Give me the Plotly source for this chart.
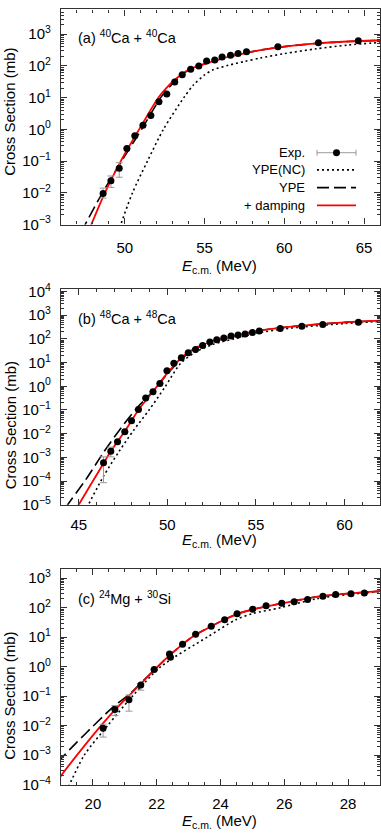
import plotly.graph_objects as go

W, H = 381, 837

# ---------------- Panel (a): 40Ca + 40Ca ----------------
a_exp_E = [48.64, 49.13, 49.65, 50.13, 50.63, 51.14, 51.63, 52.14, 52.63, 53.13, 53.60,
           54.13, 54.64, 55.13, 55.64, 56.10, 56.63, 57.10, 57.63, 59.60, 62.14, 64.64]
a_exp_sig = [0.0095, 0.024, 0.060, 0.25, 0.63, 1.35, 2.75, 7.5, 13, 31, 53,
             79, 100, 143, 155, 190, 218, 245, 280, 400, 540, 620]
a_exp_hi = [0.0141, 0.034, 0.089] + [None] * 19
a_exp_lo = [0.0068, 0.0148, 0.031] + [None] * 19

a_nc_E = [49.5, 49.75, 50.48, 51.42, 52.42, 53.7, 54.3, 55.0, 55.5, 56.5, 57.5, 58.5, 60, 62, 64, 66]
a_nc_sig = [4e-4, 1e-3, 1e-2, 0.1, 1.0, 10, 25, 52, 74, 105, 138, 178, 245, 347, 457, 550]

a_ype_E = [47.3, 47.52, 48.6, 49.8, 51.05, 52.25, 52.7, 53.15, 53.6, 54.0, 54.6, 55.5, 56.5, 57.5, 58.5, 60, 62, 64, 66]
a_ype_sig = [5.6e-4, 1e-3, 1e-2, 0.1, 1.0, 10, 19, 33, 54, 74, 100, 138, 195, 251, 316, 407, 513, 589, 646]

a_damp_E = [47.7, 47.9, 48.75, 49.75, 50.9, 52.1, 52.6, 53.1, 53.6, 54.0, 54.6, 55.5, 56.5, 57.5, 58.5, 60, 62, 64, 66]
a_damp_sig = [5.6e-4, 1e-3, 1e-2, 0.1, 1.0, 10, 20, 35.5, 56, 76, 100, 138, 195, 251, 316, 407, 513, 589, 646]

# ---------------- Panel (b): 48Ca + 48Ca ----------------
b_exp_E = [46.40, 46.81, 47.19, 47.60, 47.98, 48.37, 48.78, 49.19, 49.58, 49.98, 50.37, 50.79,
           51.18, 51.59, 51.99, 52.40, 52.79, 53.19, 53.60, 53.99, 54.39, 54.80, 55.19,
           56.37, 57.59, 58.77, 60.78]
b_exp_sig = [5.9e-4, 1.8e-3, 4.6e-3, 0.012, 0.035, 0.105, 0.32, 0.59, 1.3, 4.5, 9.4, 16,
             26, 36, 53, 75, 93, 110, 132, 145, 163, 185, 215, 275, 345, 410, 500]
b_exp_hi = [1.05e-3, 2.7e-3] + [None] * 25
b_exp_lo = [8.5e-5, 1.05e-3] + [None] * 25

b_nc_E = [45.45, 45.54, 46.4, 47.28, 48.1, 48.97, 49.85, 50.75, 51.6, 52.6, 53.75, 55, 57, 60, 62]
b_nc_sig = [7.6e-6, 1e-5, 1.6e-4, 1.8e-3, 0.014, 0.1, 0.89, 9.3, 28, 60, 100, 174, 288, 447, 550]

b_ype_E = [44.3, 44.38, 45.4, 46.44, 47.4, 48.3, 49.2, 50.0, 50.94, 51.87, 52.5, 53.5, 55, 57, 60, 62]
b_ype_sig = [7.6e-6, 1e-5, 1.15e-4, 1.8e-3, 0.018, 0.126, 0.63, 3.3, 17.8, 50, 76, 117, 214, 331, 501, 589]

b_damp_E = [44.9, 45.0, 45.8, 46.4, 46.81, 47.6, 48.37, 49.19, 50.0, 50.94, 51.87, 52.5, 53.5, 55, 57, 60, 62]
b_damp_sig = [7.4e-6, 1e-5, 1e-4, 5.6e-4, 1.8e-3, 0.0126, 0.1, 0.6, 3.6, 20, 52, 76, 117, 214, 331, 501, 589]

# ---------------- Panel (c): 24Mg + 30Si ----------------
c_exp_E = [20.32, 20.69, 21.13, 21.50, 21.92, 22.40, 22.43, 22.81, 23.22, 23.71, 24.13,
           24.52, 25.01, 25.43, 25.92, 26.31, 26.73, 27.21, 27.61, 28.09, 28.51]
c_exp_sig = [8.1e-3, 0.035, 0.076, 0.24, 0.8, 2.7, 2.1, 5.8, 12.5, 23.5, 39,
             62, 89, 117, 142, 158, 190, 245, 280, 295, 316]
c_exp_hi = [0.0112, 0.048, 0.11, 0.27] + [None] * 17
c_exp_lo = [0.0041, 0.022, 0.031, 0.16] + [None] * 17

c_nc_E = [19.15, 19.26, 19.73, 20.46, 21.24, 22.13, 23.58, 24.5, 25.0, 25.88, 27, 28, 29]
c_nc_sig = [6.3e-5, 1e-4, 1e-3, 1e-2, 0.1, 1.0, 10, 40, 63, 100, 200, 282, 355]

c_ype_E = [18.9, 19.0, 19.5, 20.0, 20.4, 20.7, 21.13, 21.5, 21.92, 22.42, 23.1, 23.71, 24.13, 24.6, 25.25, 26, 27, 28, 29]
c_ype_sig = [5.6e-4, 7.6e-4, 2.75e-3, 9.5e-3, 0.025, 0.05, 0.112, 0.275, 0.76, 2.5, 10, 23.4, 40, 66, 100, 145, 234, 302, 363]

c_damp_E = [18.9, 19.0, 19.5, 20.0, 20.69, 21.13, 21.5, 21.92, 22.42, 23.1, 23.71, 24.13, 24.6, 25.25, 26, 27, 28, 29]
c_damp_sig = [1.4e-4, 2.0e-4, 1e-3, 4.7e-3, 0.034, 0.105, 0.26, 0.76, 2.5, 10, 23.4, 40, 66, 100, 145, 234, 302, 363]

panel_labels = ["(a) <sup>40</sup>Ca + <sup>40</sup>Ca",
                "(b) <sup>48</sup>Ca + <sup>48</sup>Ca",
                "(c) <sup>24</sup>Mg + <sup>30</sup>Si"]
legend_labels = ["Exp.", "YPE(NC)", "YPE", "+ damping"]

# ---------------- style / geometry ----------------
FONT = "Liberation Sans"
AX = "#333333"
RED = "#ff0000"
ERR = "#999999"

panels = [
    dict(exp=(a_exp_E, a_exp_sig, a_exp_hi, a_exp_lo), nc=(a_nc_E, a_nc_sig), ype=(a_ype_E, a_ype_sig),
         damp=(a_damp_E, a_damp_sig), xr=[46, 66], yr=[-3, 3.78], ydec=range(-3, 4),
         xdt=5, xmin=1, top=0.5, bot=220, ytitle=105, xtitle=263, lab=29, so=9),
    dict(exp=(b_exp_E, b_exp_sig, b_exp_hi, b_exp_lo), nc=(b_nc_E, b_nc_sig), ype=(b_ype_E, b_ype_sig),
         damp=(b_damp_E, b_damp_sig), xr=[44, 62], yr=[-5, 4.1], ydec=range(-5, 5),
         xdt=5, xmin=1, top=286, bot=506, ytitle=425, xtitle=543, lab=315, so=6),
    dict(exp=(c_exp_E, c_exp_sig, c_exp_hi, c_exp_lo), nc=(c_nc_E, c_nc_sig), ype=(c_ype_E, c_ype_sig),
         damp=(c_damp_E, c_damp_sig), xr=[19, 29], yr=[-4, 3.31], ydec=range(-4, 4),
         xdt=2, xmin=0.5, top=571.7, bot=791.7, ytitle=701, xtitle=829, lab=601, so=5),
]

X0, X1 = 61, 380

fig = go.Figure()
layout = dict(width=W, height=H, margin=dict(l=0, r=0, t=0, b=0),
              paper_bgcolor="white", plot_bgcolor="white", showlegend=False,
              font=dict(family=FONT, size=15, color="black"))
annotations = []
shapes = []


def sup(k):
    s = str(k).replace("-", "\u2212")
    return "10<sup>%s</sup>" % s


for i, p in enumerate(panels):
    n = "" if i == 0 else str(i + 1)
    xa, ya = "x" + n, "y" + n
    E, s, hi, lo = p["exp"]
    plus = [(h - v) if h is not None else 0 for h, v in zip(hi, s)]
    minus = [(v - l) if l is not None else 0 for l, v in zip(lo, s)]
    fig.add_trace(go.Scatter(x=p["nc"][0], y=p["nc"][1], mode="lines", xaxis=xa, yaxis=ya,
                             line=dict(color="black", width=1.6, dash="2px,3px", shape="spline", smoothing=0.8)))
    fig.add_trace(go.Scatter(x=p["ype"][0], y=p["ype"][1], mode="lines", xaxis=xa, yaxis=ya,
                             line=dict(color="black", width=1.6, dash="12px,5px", shape="spline", smoothing=0.8)))
    fig.add_trace(go.Scatter(x=p["damp"][0], y=p["damp"][1], mode="lines", xaxis=xa, yaxis=ya,
                             line=dict(color=RED, width=1.8, shape="spline", smoothing=0.8)))
    fig.add_trace(go.Scatter(x=E, y=s, mode="markers", xaxis=xa, yaxis=ya,
                             marker=dict(color="black", size=7),
                             error_y=dict(type="data", symmetric=False, array=plus, arrayminus=minus,
                                          color=ERR, thickness=1, width=3.5)))

    ydom = [1 - p["bot"] / H, 1 - p["top"] / H]
    minor_vals = [m * 10 ** k for k in range(p["ydec"][0] - 1, p["ydec"][-1] + 2) for m in range(2, 10)]
    layout["xaxis" + n] = dict(
        domain=[X0 / W, X1 / W], anchor=ya, range=p["xr"], showline=True, linecolor=AX, linewidth=1.2,
        mirror="ticks", ticks="inside", ticklen=6, tickwidth=1, tickcolor=AX, tick0=0, dtick=p["xdt"],
        minor=dict(ticks="inside", ticklen=3, tickcolor=AX, tick0=0, dtick=p["xmin"]),
        showgrid=False, zeroline=False, tickfont=dict(size=15, family=FONT, color="black"),
        ticklabelstandoff=p["so"])
    layout["yaxis" + n] = dict(
        domain=ydom, anchor=xa, type="log", range=p["yr"], showline=True, linecolor=AX, linewidth=1.2,
        mirror="ticks", ticks="inside", ticklen=6, tickwidth=1, tickcolor=AX,
        tickmode="array", tickvals=[10 ** k for k in p["ydec"]], ticktext=[sup(k) for k in p["ydec"]],
        minor=dict(ticks="inside", ticklen=3, tickcolor=AX, tickmode="array", tickvals=minor_vals),
        showgrid=False, zeroline=False, tickfont=dict(size=15, family=FONT, color="black"),
        ticklabelstandoff=6)

    annotations.append(dict(xref="paper", yref="paper", x=10 / W, y=1 - p["ytitle"] / H,
                            text="Cross Section (mb)", textangle=-90, showarrow=False,
                            xanchor="center", yanchor="middle", font=dict(size=15, family=FONT)))
    annotations.append(dict(xref="paper", yref="paper", x=219 / W, y=1 - p["xtitle"] / H,
                            text="<i>E</i><sub>c.m.</sub> (MeV)", showarrow=False,
                            xanchor="center", yanchor="middle", font=dict(size=15, family=FONT)))
    annotations.append(dict(xref="paper", yref="paper", x=76 / W, y=1 - p["lab"] / H,
                            text=panel_labels[i], showarrow=False,
                            xanchor="left", yanchor="middle", font=dict(size=14.5, family=FONT)))

# ---------------- gnuplot-style key in panel (a) ----------------
rows = [146.7, 164.2, 182.3, 200.5]
tx, s0, s1 = 307, 317, 356
for lab, ry in zip(legend_labels, rows):
    annotations.append(dict(xref="paper", yref="paper", x=tx / W, y=1 - ry / H, text=lab,
                            showarrow=False, xanchor="right", yanchor="middle",
                            font=dict(size=13, family=FONT)))
yy = [1 - r / H for r in rows]
shapes.append(dict(type="line", xref="paper", yref="paper", x0=s0 / W, x1=s1 / W, y0=yy[0], y1=yy[0],
                   line=dict(color=ERR, width=1)))
for cx in (s0, s1):
    shapes.append(dict(type="line", xref="paper", yref="paper", x0=cx / W, x1=cx / W,
                       y0=yy[0] - 3 / H, y1=yy[0] + 3 / H, line=dict(color=ERR, width=1)))
shapes.append(dict(type="circle", xref="paper", yref="paper", x0=(336.5 - 3.5) / W, x1=(336.5 + 3.5) / W,
                   y0=yy[0] - 3.5 / H, y1=yy[0] + 3.5 / H, fillcolor="black", line=dict(color="black", width=0)))
shapes.append(dict(type="line", xref="paper", yref="paper", x0=s0 / W, x1=s1 / W, y0=yy[1], y1=yy[1],
                   line=dict(color="black", width=1.6, dash="2px,3px")))
shapes.append(dict(type="line", xref="paper", yref="paper", x0=s0 / W, x1=s1 / W, y0=yy[2], y1=yy[2],
                   line=dict(color="black", width=1.6, dash="12px,5px")))
shapes.append(dict(type="line", xref="paper", yref="paper", x0=s0 / W, x1=s1 / W, y0=yy[3], y1=yy[3],
                   line=dict(color=RED, width=1.8)))

layout["annotations"] = annotations
layout["shapes"] = shapes
fig.update_layout(**layout)
fig.write_html("out.html", config={"displayModeBar": False},
               post_script="document.body.style.margin='0';document.body.style.overflow='hidden';")
